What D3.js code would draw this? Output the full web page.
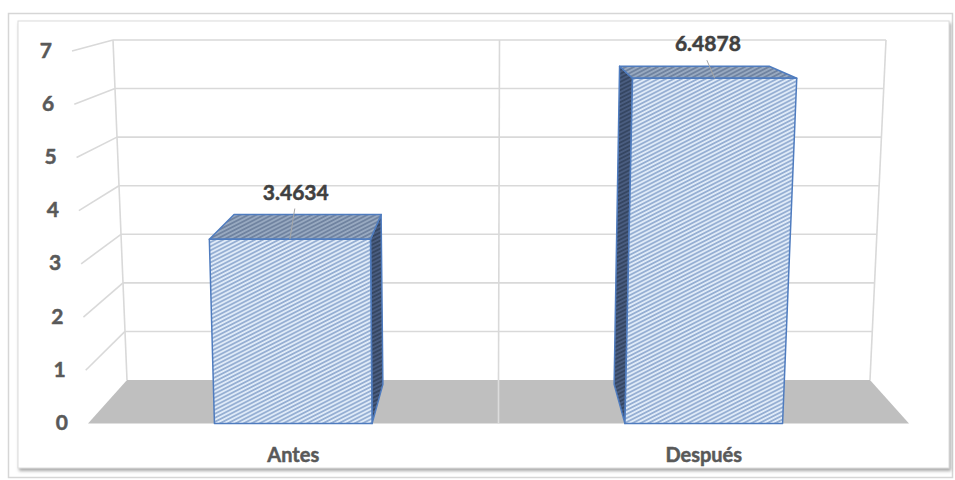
<!DOCTYPE html>
<html>
<head>
<meta charset="utf-8">
<script src="https://cdn.jsdelivr.net/npm/d3@7"></script>
<style>
  html, body { margin: 0; padding: 0; background: #ffffff; }
  svg { display: block; }
  text { paint-order: stroke; stroke-linejoin: round; }
</style>
</head>
<body>
<svg id="chart" width="955" height="480"></svg>
<script>
// Data
const categories = ["Antes", "Después"];
const values = [3.4634, 6.4878];
const valueLabels = ["3.4634", "6.4878"];
const tickValues = [0, 1, 2, 3, 4, 5, 6, 7];
const tickLabels = ["0", "1", "2", "3", "4", "5", "6", "7"];

const svg = d3.select("#chart");
const defs = svg.append("defs");

// Frame shadow
const sh = defs.append("filter").attr("id", "frameShadow")
  .attr("x", "-5%").attr("y", "-5%").attr("width", "110%").attr("height", "110%");
sh.append("feDropShadow").attr("dx", 1.5).attr("dy", 2.5).attr("stdDeviation", 1.8)
  .attr("flood-color", "#8a8a8a").attr("flood-opacity", 0.75);

// Hatch patterns for bar faces
function hatch(id, bg, line) {
  const p = defs.append("pattern").attr("id", id)
    .attr("patternUnits", "userSpaceOnUse")
    .attr("width", 8).attr("height", 3.6)
    .attr("patternTransform", "rotate(-27)");
  p.append("rect").attr("width", 8).attr("height", 3.6).attr("fill", bg);
  p.append("line").attr("x1", 0).attr("x2", 8).attr("y1", 1.8).attr("y2", 1.8)
    .attr("stroke", line).attr("stroke-width", 1);
}
hatch("hatchFront", "#e0ebf8", "#5a7fb5");
hatch("hatchTop", "#98a9c0", "#4f6587");
hatch("hatchSide", "#4a5d80", "#243349");

// Outer border and panel
svg.append("rect").attr("x", 8.5).attr("y", 13.5).attr("width", 944).attr("height", 464)
  .attr("fill", "#ffffff").attr("stroke", "#d6d6d6").attr("stroke-width", 1.5);
svg.append("rect").attr("x", 18).attr("y", 21).attr("width", 931).attr("height", 447)
  .attr("fill", "#ffffff").attr("stroke", "#dcdcdc").attr("stroke-width", 1)
  .attr("filter", "url(#frameShadow)");

// Perspective box: value scales for the front and back planes, and the
// horizontal extents of each plane as a function of value.
const vMax = 7;
const yFront = d3.scaleLinear().domain([0, vMax]).range([423.5, 51]);
const yBack = d3.scaleLinear().domain([0, vMax]).range([380, 40]);
const xFrontL = d3.scaleLinear().domain([0, vMax]).range([88, 72]);
const xFrontR = d3.scaleLinear().domain([0, vMax]).range([909, 930]);
const xBackL = d3.scaleLinear().domain([0, vMax]).range([127, 113]);
const xBackR = d3.scaleLinear().domain([0, vMax]).range([870, 886]);

// u: 0..1 across, v: value, w: 0 (front) .. 1 (back wall)
function proj(u, v, w) {
  const fl = xFrontL(v), fr = xFrontR(v), bl = xBackL(v), br = xBackR(v);
  const xf = fl + u * (fr - fl), xb = bl + u * (br - bl);
  const yf = yFront(v), yb = yBack(v);
  return [xf + w * (xb - xf), yf + w * (yb - yf)];
}

const band = d3.scaleBand().domain(categories).range([0, 1])
  .paddingInner(0.616).paddingOuter(0.308);

const line = d3.line();
const grid = "#d9d9d9";

// Floor
svg.append("path")
  .attr("d", line([proj(0, 0, 0), proj(1, 0, 0), proj(1, 0, 1), proj(0, 0, 1)]) + "Z")
  .attr("fill", "#bfbfbf");

// Back wall horizontal gridlines and side wall lines
const gGrid = svg.append("g").attr("fill", "none").attr("stroke", grid).attr("stroke-width", 1.6);
tickValues.forEach(t => {
  if (t > 0) {
    gGrid.append("path").attr("d", line([proj(0, t, 1), proj(1, t, 1)]));
    gGrid.append("path").attr("d", line([proj(0, t, 0), proj(0, t, 1)]));
  }
});
// Back wall edges and category divider
gGrid.append("path").attr("d", line([proj(0, 0, 1), proj(0, vMax, 1)]));
gGrid.append("path").attr("d", line([proj(1, 0, 1), proj(1, vMax, 1)]));
gGrid.append("path").attr("d", line([proj(0.5, 0, 1), proj(0.5, vMax, 1)]));
svg.append("path").attr("d", line([proj(0.5, 0, 0), proj(0.5, 0, 1)]))
  .attr("stroke", "#dcdcdc").attr("stroke-width", 1.6).attr("fill", "none");

// Value axis labels
svg.append("g").selectAll("text").data(tickValues).join("text")
  .attr("x", d => proj(0, d, 0)[0] - 20)
  .attr("y", d => proj(0, d, 0)[1] + 6.5)
  .attr("text-anchor", "end")
  .attr("font-family", "Lato, 'Open Sans', sans-serif")
  .attr("font-weight", "bold")
  .attr("font-size", 21)
  .attr("fill", "#595959")
  .attr("stroke", "#595959").attr("stroke-width", 0.5)
  .text((d, i) => tickLabels[i]);

// Bars
const depth = 0.9;
const barStroke = "#4f7cbf";
const gBars = svg.append("g").attr("stroke", barStroke).attr("stroke-width", 1.5)
  .attr("stroke-linejoin", "round");

categories.forEach((c, i) => {
  const u0 = band(c), u1 = u0 + band.bandwidth(), v = values[i];
  const g = gBars.append("g");
  // visible side face
  const rightVisible = proj(u1, v, depth)[0] > proj(u1, v, 0)[0];
  const us = rightVisible ? u1 : u0;
  g.append("path")
    .attr("d", line([proj(us, 0, 0), proj(us, 0, depth), proj(us, v, depth), proj(us, v, 0)]) + "Z")
    .attr("fill", "url(#hatchSide)");
  // top face
  g.append("path")
    .attr("d", line([proj(u0, v, 0), proj(u1, v, 0), proj(u1, v, depth), proj(u0, v, depth)]) + "Z")
    .attr("fill", "url(#hatchTop)");
  // front face
  g.append("path")
    .attr("d", line([proj(u0, 0, 0), proj(u1, 0, 0), proj(u1, v, 0), proj(u0, v, 0)]) + "Z")
    .attr("fill", "url(#hatchFront)");
});

// Data labels with leader lines
categories.forEach((c, i) => {
  const uc = band(c) + band.bandwidth() / 2, v = values[i];
  const lx = proj(uc, v, 0.3)[0];
  const ly = proj(uc, v, depth)[1] - 15;
  const anchor = proj(uc, v, 0);
  svg.append("line")
    .attr("x1", lx - 1).attr("y1", ly + 9)
    .attr("x2", anchor[0]).attr("y2", anchor[1])
    .attr("stroke", "#a6a6a6").attr("stroke-width", 1);
  svg.append("text")
    .attr("x", lx).attr("y", ly)
    .attr("text-anchor", "middle")
    .attr("font-family", "Lato, 'Open Sans', sans-serif")
    .attr("font-weight", "bold")
    .attr("font-size", 21)
    .attr("fill", "#404040")
    .attr("stroke", "#404040").attr("stroke-width", 0.5)
    .text(valueLabels[i]);
});

// Category labels
svg.append("g").selectAll("text").data(categories).join("text")
  .attr("x", d => proj(band(d) + band.bandwidth() / 2, 0, 0)[0])
  .attr("y", 462)
  .attr("text-anchor", "middle")
  .attr("font-family", "Lato, 'Open Sans', sans-serif")
  .attr("font-weight", "bold")
  .attr("font-size", 20)
  .attr("fill", "#595959")
  .attr("stroke", "#595959").attr("stroke-width", 0.5)
  .text(d => d);
</script>
</body>
</html>
